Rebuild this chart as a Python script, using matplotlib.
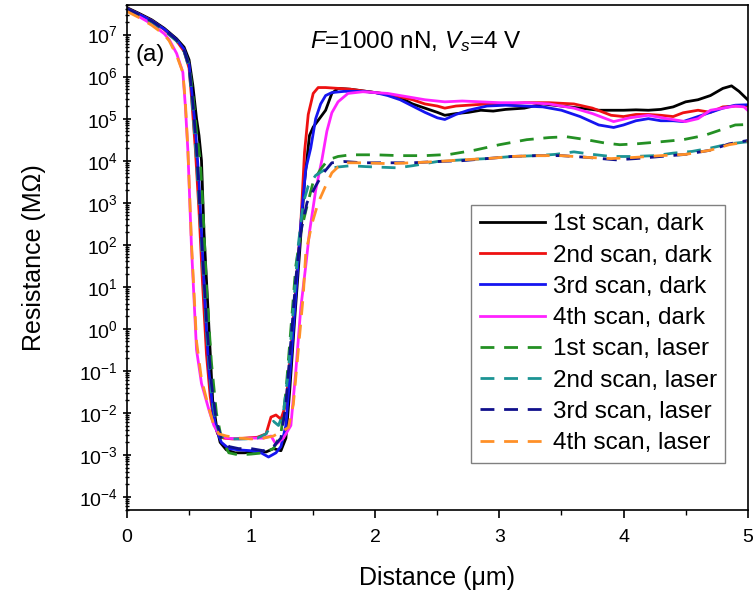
import numpy as np
import matplotlib
matplotlib.use('Agg')
import matplotlib.pyplot as plt
from matplotlib.ticker import LogLocator, MultipleLocator

plt.rcParams['font.family'] = ['Liberation Sans', 'DejaVu Sans']
plt.rcParams['mathtext.fontset'] = 'custom'
plt.rcParams['mathtext.rm'] = 'Liberation Sans'
plt.rcParams['mathtext.it'] = 'Liberation Sans:italic'
plt.rcParams['axes.unicode_minus'] = False

# distance (um) and log10(resistance / MOhm)
x_d1 = [0, 0.1, 0.2, 0.3, 0.4, 0.46, 0.5, 0.53, 0.56, 0.58, 0.6, 0.62, 0.65, 0.69, 0.72, 0.75,
        0.8, 0.87, 0.95, 1.05, 1.12, 1.18, 1.24, 1.28, 1.31, 1.35, 1.39, 1.43, 1.47, 1.5, 1.55,
        1.6, 1.65, 1.7, 1.8, 1.9, 2.0, 2.1, 2.2, 2.3, 2.4, 2.5, 2.56, 2.65, 2.75, 2.85, 2.95,
        3.05, 3.2, 3.35, 3.5, 3.65, 3.8, 3.9, 4.0, 4.1, 4.2, 4.3, 4.4, 4.5, 4.6, 4.7, 4.8, 4.87,
        4.93, 5.0]
r_d1 = [7.64, 7.5, 7.35, 7.15, 6.9, 6.7, 6.4, 5.8, 5.0, 4.6, 4.0, 2.3, 0.6, -1.7, -2.3, -2.7,
        -2.88, -2.95, -2.95, -2.9, -2.93, -2.85, -2.9, -2.6, -1.5, 0.2, 1.8, 3.5, 4.6, 4.8, 5.0,
        5.2, 5.6, 5.72, 5.7, 5.66, 5.62, 5.58, 5.5, 5.35, 5.25, 5.15, 5.08, 5.12, 5.15, 5.2, 5.18,
        5.22, 5.25, 5.35, 5.3, 5.25, 5.2, 5.2, 5.2, 5.21, 5.2, 5.22, 5.28, 5.4, 5.45, 5.55, 5.72,
        5.78, 5.65, 5.45]

x_d2 = [0, 0.1, 0.2, 0.3, 0.4, 0.46, 0.5, 0.52, 0.55, 0.58, 0.61, 0.64, 0.67, 0.7, 0.73, 0.78,
        0.85, 0.95, 1.05, 1.12, 1.16, 1.2, 1.24, 1.28, 1.32, 1.36, 1.4, 1.43, 1.46, 1.5, 1.54,
        1.6, 1.7, 1.8, 1.9, 2.0, 2.1, 2.2, 2.3, 2.4, 2.5, 2.56, 2.65, 2.75, 2.9, 3.05, 3.2, 3.4,
        3.6, 3.75, 3.9, 4.0, 4.1, 4.2, 4.3, 4.4, 4.48, 4.6, 4.7, 4.8, 4.9, 5.0]
r_d2 = [7.62, 7.48, 7.33, 7.12, 6.85, 6.6, 6.2, 5.5, 4.3, 2.8, 1.0, -0.6, -1.6, -2.2, -2.5, -2.6,
        -2.62, -2.6, -2.58, -2.5, -2.1, -2.05, -2.15, -1.8, -0.5, 1.0, 2.5, 4.2, 5.1, 5.6, 5.74,
        5.74, 5.72, 5.7, 5.66, 5.62, 5.58, 5.52, 5.45, 5.35, 5.3, 5.25, 5.3, 5.32, 5.35, 5.35,
        5.38, 5.38, 5.35, 5.25, 5.08, 5.05, 5.1, 5.1, 5.08, 5.05, 5.14, 5.2, 5.15, 5.28, 5.3, 5.3]

x_d3 = [0, 0.1, 0.2, 0.3, 0.4, 0.46, 0.5, 0.52, 0.55, 0.58, 0.6, 0.63, 0.66, 0.69, 0.72, 0.76,
        0.82, 0.9, 1.0, 1.08, 1.14, 1.2, 1.24, 1.28, 1.32, 1.36, 1.4, 1.44, 1.48, 1.52, 1.56,
        1.6, 1.65, 1.75, 1.9, 2.0, 2.1, 2.2, 2.3, 2.4, 2.5, 2.56, 2.65, 2.75, 2.9, 3.05, 3.2,
        3.35, 3.5, 3.65, 3.8, 3.92, 4.0, 4.1, 4.2, 4.3, 4.4, 4.48, 4.6, 4.7, 4.8, 4.9, 5.0]
r_d3 = [7.62, 7.48, 7.33, 7.13, 6.88, 6.65, 6.3, 5.7, 4.8, 3.5, 2.3, 0.5, -1.0, -1.9, -2.4, -2.7,
        -2.85, -2.88, -2.9, -2.95, -3.05, -2.95, -2.8, -2.3, -0.8, 0.8, 2.5, 3.8, 4.3, 5.0, 5.35,
        5.55, 5.62, 5.65, 5.65, 5.62, 5.55, 5.45, 5.3, 5.15, 5.02, 4.98, 5.1, 5.2, 5.3, 5.32, 5.3,
        5.28, 5.2, 5.05, 4.85, 4.79, 4.85, 4.95, 5.0, 4.95, 4.95, 4.93, 5.05, 5.15, 5.25, 5.32,
        5.33]

x_d4 = [0, 0.1, 0.2, 0.3, 0.34, 0.4, 0.45, 0.47, 0.49, 0.52, 0.56, 0.6, 0.66, 0.7, 0.74, 0.8,
        0.9, 1.0, 1.1, 1.16, 1.2, 1.26, 1.32, 1.36, 1.4, 1.44, 1.47, 1.52, 1.57, 1.61, 1.65, 1.7,
        1.78, 1.9, 2.0, 2.1, 2.2, 2.3, 2.4, 2.56, 2.7, 2.85, 3.0, 3.22, 3.4, 3.6, 3.75, 3.92,
        4.05, 4.2, 4.35, 4.5, 4.6, 4.7, 4.8, 4.9, 4.97, 5.0]
r_d4 = [7.58, 7.42, 7.25, 7.02, 6.88, 6.55, 6.1, 5.3, 4.26, 1.9, -0.5, -1.3, -1.93, -2.3, -2.5,
        -2.6, -2.62, -2.6, -2.6, -2.55, -2.75, -2.6, -2.3, -1.0, 0.5, 1.5, 2.3, 3.3, 4.02, 4.7,
        5.14, 5.4, 5.6, 5.64, 5.62, 5.6, 5.55, 5.5, 5.45, 5.4, 5.42, 5.4, 5.38, 5.38, 5.35, 5.25,
        5.12, 4.93, 5.02, 5.08, 5.0, 4.93, 5.0, 5.2, 5.25, 5.3, 5.28, 5.2]

x_l1 = [0, 0.1, 0.2, 0.3, 0.4, 0.46, 0.5, 0.53, 0.56, 0.59, 0.61, 0.64, 0.68, 0.72, 0.76, 0.82,
        0.9, 1.0, 1.1, 1.18, 1.24, 1.28, 1.32, 1.36, 1.4, 1.44, 1.5, 1.56, 1.62, 1.7, 1.8, 2.0,
        2.2, 2.4, 2.6, 2.8, 3.0, 3.22, 3.4, 3.54, 3.7, 3.85, 3.97, 4.1, 4.3, 4.48, 4.65, 4.8,
        4.9, 5.0]
r_l1 = [7.6, 7.45, 7.3, 7.1, 6.85, 6.6, 6.3, 5.6, 4.7, 4.0, 3.0, 1.0, -0.8, -2.0, -2.6, -2.95,
        -3.0, -2.98, -2.95, -2.85, -2.5, -1.5, 0.0, 1.5, 2.3, 2.8, 3.5, 3.8, 4.02, 4.1, 4.14,
        4.14, 4.12, 4.12, 4.15, 4.25, 4.38, 4.5, 4.55, 4.57, 4.5, 4.42, 4.38, 4.4, 4.45, 4.5, 4.6,
        4.75, 4.85, 4.86]

x_l2 = [0, 0.1, 0.2, 0.3, 0.4, 0.46, 0.5, 0.53, 0.56, 0.6, 0.64, 0.68, 0.72, 0.76, 0.85, 0.95,
        1.05, 1.12, 1.18, 1.22, 1.26, 1.3, 1.34, 1.38, 1.42, 1.46, 1.52, 1.6, 1.7, 1.8, 1.92,
        2.0, 2.18, 2.3, 2.5, 2.7, 2.9, 3.1, 3.3, 3.45, 3.6, 3.75, 3.9, 4.08, 4.25, 4.4, 4.55,
        4.7, 4.85, 5.0]
r_l2 = [7.6, 7.46, 7.31, 7.1, 6.85, 6.6, 6.2, 5.2, 4.0, 2.0, 0.0, -1.5, -2.3, -2.55, -2.62,
        -2.62, -2.6, -2.5, -2.2, -2.3, -2.0, -1.0, 0.5, 2.0, 3.0, 3.4, 3.65, 3.8, 3.85, 3.88,
        3.86, 3.85, 3.83, 3.88, 3.98, 4.02, 4.05, 4.1, 4.12, 4.15, 4.21, 4.15, 4.1, 4.1, 4.12,
        4.18, 4.22, 4.3, 4.4, 4.45]

x_l3 = [0, 0.1, 0.2, 0.3, 0.4, 0.46, 0.5, 0.53, 0.56, 0.6, 0.64, 0.68, 0.72, 0.76, 0.82, 0.9,
        1.0, 1.1, 1.18, 1.24, 1.28, 1.32, 1.36, 1.4, 1.45, 1.52, 1.58, 1.65, 1.75, 1.9, 2.1, 2.3,
        2.5, 2.7, 2.9, 3.1, 3.3, 3.5, 3.7, 3.94, 4.1, 4.3, 4.5, 4.7, 4.85, 5.0]
r_l3 = [7.61, 7.47, 7.32, 7.12, 6.87, 6.62, 6.25, 5.4, 4.3, 2.2, 0.2, -1.3, -2.2, -2.6, -2.8,
        -2.85, -2.85, -2.9, -2.8, -2.6, -1.8, -0.3, 1.2, 2.3, 3.0, 3.4, 3.7, 3.95, 3.98, 3.95,
        3.95, 3.95, 3.98, 4.0, 4.05, 4.1, 4.12, 4.12, 4.08, 4.02, 4.05, 4.1, 4.15, 4.25, 4.4,
        4.48]

x_l4 = [0, 0.1, 0.2, 0.3, 0.34, 0.4, 0.45, 0.47, 0.49, 0.52, 0.56, 0.6, 0.66, 0.7, 0.74, 0.8,
        0.9, 1.0, 1.1, 1.18, 1.24, 1.3, 1.34, 1.38, 1.42, 1.44, 1.49, 1.54, 1.6, 1.65, 1.7, 1.78,
        1.9, 2.1, 2.3, 2.5, 2.7, 2.9, 3.1, 3.3, 3.5, 3.7, 3.9, 4.1, 4.3, 4.5, 4.7, 4.85, 5.0]
r_l4 = [7.55, 7.4, 7.22, 7.0, 6.85, 6.5, 6.1, 5.4, 4.3, 2.0, -0.3, -1.2, -1.9, -2.3, -2.5,
        -2.55, -2.6, -2.62, -2.6, -2.55, -2.45, -2.35, -1.8, -0.5, 0.8, 1.81, 2.5, 3.0, 3.4,
        3.71, 3.85, 3.95, 3.95, 3.93, 3.95, 3.98, 4.02, 4.05, 4.1, 4.12, 4.12, 4.08, 4.05, 4.08,
        4.12, 4.15, 4.25, 4.38, 4.45]

labels = ['1st scan, dark', '2nd scan, dark', '3rd scan, dark', '4th scan, dark',
          '1st scan, laser', '2nd scan, laser', '3rd scan, laser', '4th scan, laser']
colors = ['black', '#ee1111', '#1515f0', '#ff22ff',
          '#249024', '#1c9494', '#10108c', '#ff9028']
xs = [x_d1, x_d2, x_d3, x_d4, x_l1, x_l2, x_l3, x_l4]
rs = [r_d1, r_d2, r_d3, r_d4, r_l1, r_l2, r_l3, r_l4]

fig = plt.figure(figsize=(7.56, 5.93), dpi=100)
ax = fig.add_axes([0.168, 0.14, 0.821, 0.852])

for i in range(8):
    if i < 4:
        ax.plot(xs[i], np.power(10.0, rs[i]), color=colors[i], lw=2.0, label=labels[i])
    else:
        ax.plot(xs[i], np.power(10.0, rs[i]), color=colors[i], lw=2.0, label=labels[i],
                dashes=(5, 3.5))

ax.set_yscale('log')
ax.set_xlim(0, 5)
ax.set_ylim(10**-4.31, 10**7.71)
ax.yaxis.set_major_locator(LogLocator(base=10, numticks=20))
ax.yaxis.set_minor_locator(LogLocator(base=10, subs=np.arange(2, 10), numticks=20))
ax.xaxis.set_major_locator(MultipleLocator(1))
ax.xaxis.set_minor_locator(MultipleLocator(0.5))
ax.tick_params(axis='both', which='major', direction='out', length=6, width=1.2, labelsize=14)
ax.tick_params(axis='both', which='minor', direction='out', length=3.5, width=1)
ax.tick_params(axis='y', which='both', direction='inout')
ax.tick_params(axis='x', which='major', pad=8)
for s in ax.spines.values():
    s.set_linewidth(1.2)

ax.set_xlabel('Distance (\u03bcm)', fontsize=18, labelpad=14)
ax.set_ylabel('Resistance (M\u03a9)', fontsize=18, labelpad=24)

ax.text(0.295, 0.927, '$F$=1000 nN, $V_s$=4 V', transform=ax.transAxes, fontsize=17.5,
        va='center', ha='left')
ax.text(0.013, 0.90, '(a)', transform=ax.transAxes, fontsize=17.5, va='center', ha='left')

leg = ax.legend(loc='upper right', bbox_to_anchor=(0.964, 0.604), fontsize=17.5,
                handlelength=2.7, labelspacing=0.38, handletextpad=0.3, borderpad=0.35,
                fancybox=False, framealpha=1, edgecolor='#808080', borderaxespad=0)
leg.get_frame().set_linewidth(1.0)

fig.savefig('out.png', dpi=100)
